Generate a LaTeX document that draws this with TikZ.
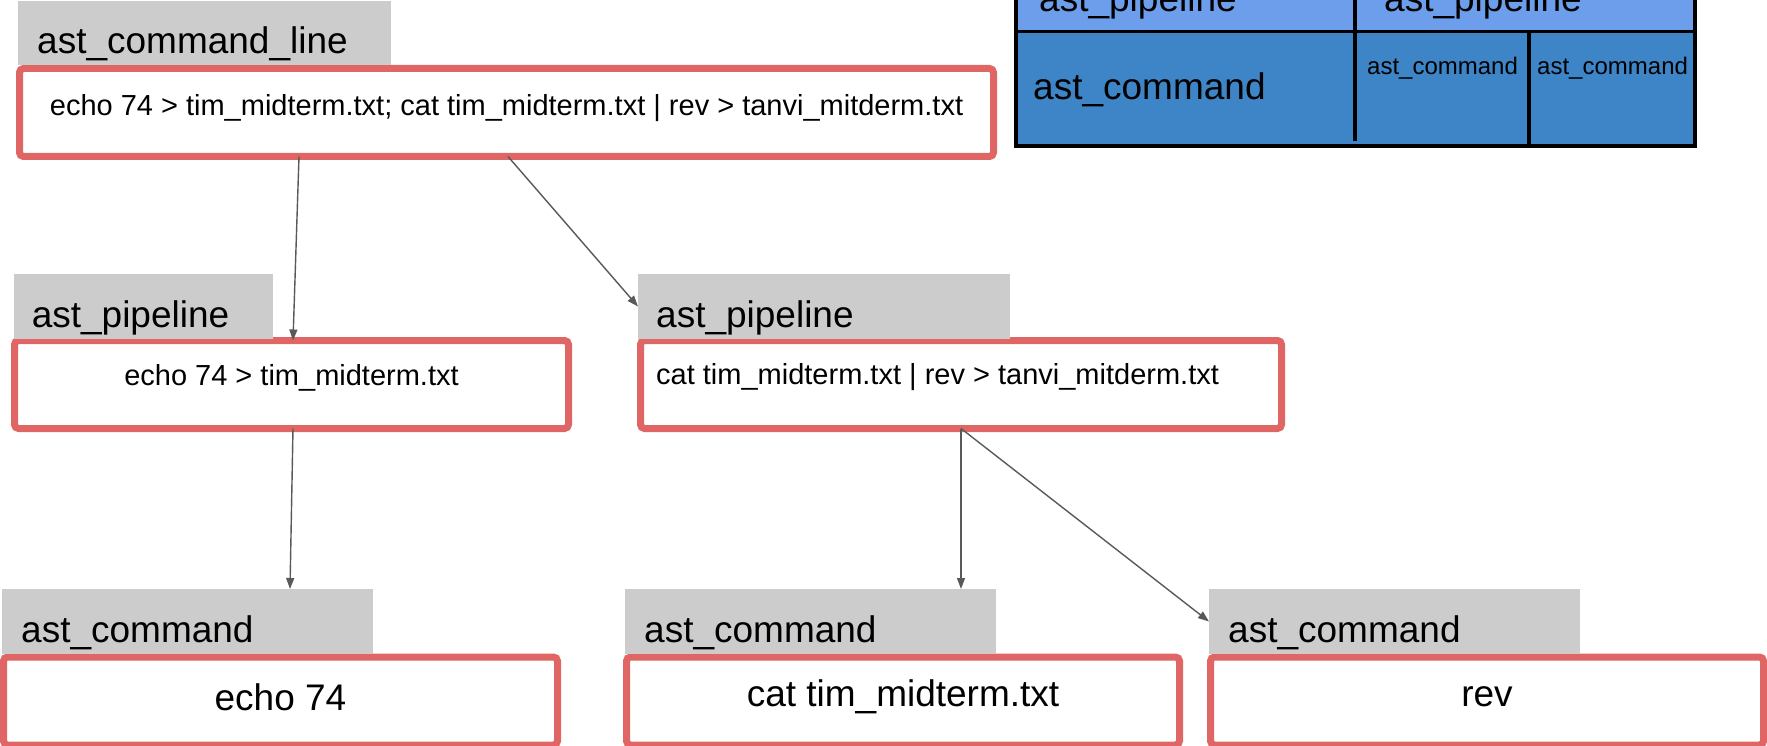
\documentclass[tikz,border=0pt]{standalone}
\usepackage{fontspec}
\setmainfont{Liberation Sans}
\usetikzlibrary{arrows.meta}
\definecolor{boxred}{HTML}{E06666}
\definecolor{labelgray}{HTML}{CCCCCC}
\definecolor{lightblue}{HTML}{6D9EEB}
\definecolor{darkblue}{HTML}{3D85C6}
\definecolor{arrowgray}{HTML}{595959}

\begin{document}
\begin{tikzpicture}[x=1pt,y=-1pt,
  redbox/.style={draw=boxred, line width=7pt, fill=white, rounded corners=4pt,
    inner sep=0pt, outer sep=0pt, minimum height=88pt},
  graylabel/.style={fill=labelgray, inner sep=0pt, outer sep=0pt, minimum height=65pt},
  headfont/.style={font=\fontsize{37}{44}\selectfont},
  cmdfont/.style={font=\fontsize{29}{35}\selectfont},
  smallfont/.style={font=\fontsize{24}{29}\selectfont},
  labeltext/.style={headfont, anchor=base west, inner sep=0pt},
  edge/.style={draw=arrowgray, line width=1.4pt, -{Triangle[length=11pt,width=8pt]}},
  cellline/.style={draw=black, line width=3.5pt}
]
\useasboundingbox (0,0) rectangle (1767,746);
\clip (0,0) rectangle (1767,746);

% ---------- legend table ----------
\fill[lightblue] (1016,-40) rectangle (1695,31.5);
\fill[darkblue] (1016,31.5) rectangle (1695,146);
\draw[cellline] (1016,-40) rectangle (1695,146);
\draw[cellline] (1016,31.5) -- (1695,31.5);
\draw[cellline] (1355,-40) -- (1355,141);
\draw[cellline] (1529,31.5) -- (1529,146);
\node[labeltext] (tp1) at (1039,12) {ast\_pipeline};
\node[labeltext] (tp2) at (1384,12) {ast\_pipeline};
\node[labeltext] (tc0) at (1033,100) {ast\_command};
\node[smallfont, anchor=base west, inner sep=0pt] (tc1) at (1367,75) {ast\_command};
\node[smallfont, anchor=base west, inner sep=0pt] (tc2) at (1537,75) {ast\_command};

% ---------- command line ----------
\node[redbox, minimum width=974pt] (cl) at (506.5,112.5) {};
\node[graylabel, minimum width=373pt, minimum height=64pt] (cllab) at (204.5,33) {};
\node[labeltext] at ([xshift=19pt, yshift=11pt]cllab.south west) {ast\_command\_line};
\node[cmdfont] (cltext) at ([yshift=4pt]cl.center)
  {echo 74 > tim\_midterm.txt; cat tim\_midterm.txt | rev > tanvi\_mitderm.txt};

% ---------- pipelines ----------
\node[redbox, minimum width=554pt] (pl1) at (291.5,384.5) {};
\node[graylabel, minimum width=259.5pt] (pl1lab) at (143.3,306.5) {};
\node[labeltext] at ([xshift=18pt, yshift=12pt]pl1lab.south west) {ast\_pipeline};
\node[cmdfont] (pl1text) at ([yshift=7pt]pl1.center) {echo 74 > tim\_midterm.txt};

\node[redbox, minimum width=641pt] (pl2) at (961,384.5) {};
\node[graylabel, minimum width=372pt] (pl2lab) at (824,306.5) {};
\node[labeltext] at ([xshift=18pt, yshift=12pt]pl2lab.south west) {ast\_pipeline};
\node[cmdfont, anchor=west, inner sep=0pt] (pl2text) at ([xshift=15.5pt, yshift=7pt]pl2.west)
  {cat tim\_midterm.txt | rev > tanvi\_mitderm.txt};

% ---------- commands ----------
\node[redbox, minimum width=554pt] (cm1) at (280.5,701) {};
\node[graylabel, minimum width=371pt] (cm1lab) at (187.5,621.5) {};
\node[labeltext] at ([xshift=19pt, yshift=12pt]cm1lab.south west) {ast\_command};
\node[headfont] (cm1text) at ([yshift=4pt]cm1.center) {echo 74};

\node[redbox, minimum width=553pt] (cm2) at (903,701) {};
\node[graylabel, minimum width=371pt] (cm2lab) at (810.5,621.5) {};
\node[labeltext] at ([xshift=19pt, yshift=12pt]cm2lab.south west) {ast\_command};
\node[headfont] (cm2text) at ([yshift=4pt]cm2.center) {cat tim\_midterm.txt};

\node[redbox, minimum width=553pt] (cm3) at (1487,701) {};
\node[graylabel, minimum width=371pt] (cm3lab) at (1394.5,621.5) {};
\node[labeltext] at ([xshift=19pt, yshift=12pt]cm3lab.south west) {ast\_command};
\node[headfont] (cm3text) at ([yshift=4pt]cm3.center) {rev};

% ---------- tree edges ----------
\draw[edge] ([xshift=-207.5pt]cl.south) -- ([xshift=1.5pt]pl1.north);
\draw[edge] ([xshift=1.5pt]cl.south) -- (pl2lab.west);
\draw[edge] ([xshift=1.5pt]pl1.south) -- ([xshift=102.5pt]cm1lab.north);
\draw[edge] (pl2.south) -- ([xshift=150.5pt]cm2lab.north);
\draw[edge] (pl2.south) -- (cm3lab.west);
\end{tikzpicture}
\end{document}
